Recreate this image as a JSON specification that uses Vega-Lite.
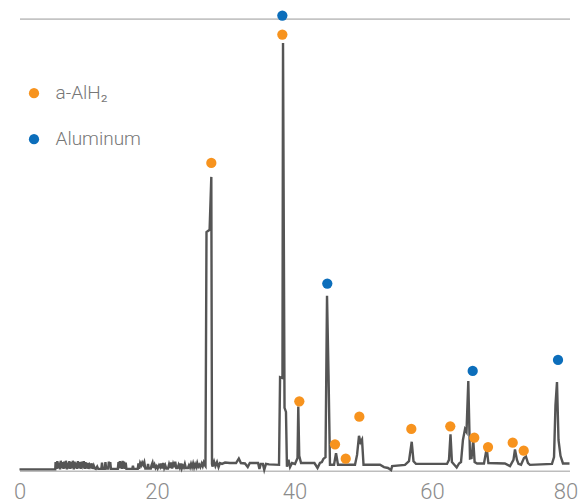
{
  "$schema": "https://vega.github.io/schema/vega-lite/v6.json",
  "width": 550,
  "height": 452,
  "autosize": {"type": "none"},
  "padding": {"left": 19.5, "top": 18.7, "right": 9.5, "bottom": 33.3},
  "background": "white",
  "config": {"view": {"stroke": null}},
  "datasets": {
    "pattern": [
      {"x": 0, "y": 0.3}, {"x": 5.1, "y": 0.3},
      {"x": 5.2, "y": 0.3}, {"x": 5.25, "y": 1.9}, {"x": 5.4, "y": 0.4}, {"x": 5.5, "y": 2.1},
      {"x": 5.65, "y": 0.5}, {"x": 5.75, "y": 1.8}, {"x": 5.9, "y": 0.3}, {"x": 6.0, "y": 2.2},
      {"x": 6.15, "y": 0.6}, {"x": 6.25, "y": 1.9}, {"x": 6.4, "y": 0.4}, {"x": 6.5, "y": 2.0},
      {"x": 6.65, "y": 0.5}, {"x": 6.75, "y": 2.2}, {"x": 6.9, "y": 0.3}, {"x": 7.0, "y": 1.8},
      {"x": 7.15, "y": 0.5}, {"x": 7.25, "y": 2.1}, {"x": 7.4, "y": 0.4}, {"x": 7.5, "y": 1.9},
      {"x": 7.65, "y": 0.6}, {"x": 7.75, "y": 2.2}, {"x": 7.9, "y": 0.3}, {"x": 8.0, "y": 2.0},
      {"x": 8.15, "y": 0.5}, {"x": 8.25, "y": 1.8}, {"x": 8.4, "y": 0.4}, {"x": 8.5, "y": 2.1},
      {"x": 8.65, "y": 0.6}, {"x": 8.75, "y": 1.9}, {"x": 8.9, "y": 0.4},
      {"x": 9.05, "y": 2.0}, {"x": 9.2, "y": 1.2}, {"x": 9.35, "y": 2.1}, {"x": 9.5, "y": 0.4},
      {"x": 9.6, "y": 1.9}, {"x": 9.75, "y": 0.5}, {"x": 9.9, "y": 1.7}, {"x": 10.05, "y": 0.4},
      {"x": 10.2, "y": 1.3}, {"x": 10.35, "y": 0.9}, {"x": 10.5, "y": 1.6}, {"x": 10.65, "y": 0.4},
      {"x": 10.8, "y": 1.1}, {"x": 10.95, "y": 0.5}, {"x": 11.1, "y": 0.4}, {"x": 11.3, "y": 0.9},
      {"x": 11.45, "y": 0.4}, {"x": 11.9, "y": 0.4}, {"x": 12.0, "y": 1.8}, {"x": 12.1, "y": 0.4},
      {"x": 12.4, "y": 0.4}, {"x": 12.5, "y": 1.9}, {"x": 12.6, "y": 0.5}, {"x": 12.9, "y": 0.5},
      {"x": 13.0, "y": 2.0}, {"x": 13.1, "y": 1.0}, {"x": 13.2, "y": 1.9}, {"x": 13.3, "y": 0.4},
      {"x": 13.5, "y": 0.4}, {"x": 14.3, "y": 0.4}, {"x": 14.4, "y": 1.9}, {"x": 14.5, "y": 0.5},
      {"x": 14.6, "y": 2.1}, {"x": 14.7, "y": 0.6}, {"x": 14.8, "y": 1.9}, {"x": 14.9, "y": 0.4},
      {"x": 15.0, "y": 2.2}, {"x": 15.1, "y": 0.5}, {"x": 15.2, "y": 2.0}, {"x": 15.3, "y": 0.4},
      {"x": 15.45, "y": 1.8}, {"x": 15.55, "y": 0.4}, {"x": 16.4, "y": 0.4}, {"x": 16.5, "y": 1.1},
      {"x": 16.6, "y": 0.4}, {"x": 17.2, "y": 0.4}, {"x": 17.3, "y": 1.6}, {"x": 17.4, "y": 0.4},
      {"x": 17.55, "y": 1.7}, {"x": 17.7, "y": 1.2}, {"x": 17.85, "y": 1.8}, {"x": 18.0, "y": 1.3},
      {"x": 18.15, "y": 1.9}, {"x": 18.3, "y": 0.5}, {"x": 18.6, "y": 0.5}, {"x": 18.7, "y": 1.5},
      {"x": 18.8, "y": 0.5}, {"x": 19.1, "y": 0.5}, {"x": 19.2, "y": 1.2}, {"x": 19.35, "y": 1.8},
      {"x": 19.5, "y": 0.6}, {"x": 19.65, "y": 1.3}, {"x": 19.8, "y": 0.6}, {"x": 19.95, "y": 1.0},
      {"x": 20.1, "y": 0.5}, {"x": 20.3, "y": 1.2}, {"x": 20.45, "y": 0.8}, {"x": 20.6, "y": 1.6},
      {"x": 20.75, "y": 0.5}, {"x": 20.9, "y": 1.7}, {"x": 21.05, "y": 0.6}, {"x": 21.2, "y": 1.2},
      {"x": 21.35, "y": 0.5}, {"x": 21.6, "y": 0.5}, {"x": 21.75, "y": 1.4}, {"x": 21.9, "y": 0.6},
      {"x": 22.05, "y": 1.8}, {"x": 22.2, "y": 0.5}, {"x": 22.35, "y": 1.5}, {"x": 22.5, "y": 0.8},
      {"x": 22.65, "y": 2.0}, {"x": 22.8, "y": 0.6}, {"x": 23.0, "y": 0.6}, {"x": 23.15, "y": 1.3},
      {"x": 23.3, "y": 0.7}, {"x": 23.45, "y": 1.6}, {"x": 23.6, "y": 0.5}, {"x": 23.75, "y": 1.1},
      {"x": 23.9, "y": 0.7}, {"x": 24.05, "y": 1.5}, {"x": 24.2, "y": 0.6}, {"x": 24.5, "y": 0.6},
      {"x": 24.65, "y": 1.2}, {"x": 24.8, "y": 0.7}, {"x": 24.95, "y": 1.5}, {"x": 25.1, "y": 0.8},
      {"x": 25.25, "y": 1.6}, {"x": 25.4, "y": 0.7}, {"x": 25.55, "y": 1.4}, {"x": 25.7, "y": 0.8},
      {"x": 25.85, "y": 1.7}, {"x": 26.0, "y": 0.9}, {"x": 26.15, "y": 1.3}, {"x": 26.3, "y": 0.8},
      {"x": 26.5, "y": 1.6}, {"x": 26.65, "y": 1.0}, {"x": 26.8, "y": 1.8}, {"x": 26.95, "y": 1.2},
      {"x": 27.05, "y": 1.0},
      {"x": 27.2, "y": 52.8}, {"x": 27.65, "y": 53.3}, {"x": 27.9, "y": 65.0}, {"x": 28.0, "y": 1.5},
      {"x": 28.07, "y": 0.9}, {"x": 28.3, "y": 2.0}, {"x": 28.5, "y": 1.0}, {"x": 28.73, "y": 1.9},
      {"x": 28.95, "y": 0.8}, {"x": 29.16, "y": 1.7}, {"x": 29.45, "y": 1.5}, {"x": 29.9, "y": 1.8},
      {"x": 30.6, "y": 1.7}, {"x": 31.5, "y": 1.7}, {"x": 31.9, "y": 2.7}, {"x": 32.2, "y": 1.7},
      {"x": 32.8, "y": 1.6}, {"x": 33.2, "y": 0.8}, {"x": 33.5, "y": 1.7}, {"x": 34.7, "y": 1.7},
      {"x": 34.9, "y": 0.4}, {"x": 35.1, "y": 1.5}, {"x": 35.4, "y": 1.5}, {"x": 35.6, "y": 0.2},
      {"x": 35.85, "y": 1.5}, {"x": 36.3, "y": 1.4}, {"x": 37.75, "y": 1.3},
      {"x": 37.9, "y": 20.7}, {"x": 38.25, "y": 20.5}, {"x": 38.33, "y": 94.6}, {"x": 38.55, "y": 13.9},
      {"x": 38.76, "y": 13.0}, {"x": 38.9, "y": 0.9},
      {"x": 39.13, "y": 2.4}, {"x": 39.35, "y": 0.8}, {"x": 39.64, "y": 1.7}, {"x": 40.07, "y": 1.5},
      {"x": 40.44, "y": 2.8}, {"x": 40.55, "y": 14.2}, {"x": 40.69, "y": 3.3}, {"x": 40.95, "y": 1.7},
      {"x": 42.9, "y": 1.7}, {"x": 43.35, "y": 0.6}, {"x": 43.7, "y": 1.7}, {"x": 43.98, "y": 1.9},
      {"x": 44.2, "y": 2.6}, {"x": 44.51, "y": 3.0}, {"x": 44.73, "y": 38.7}, {"x": 44.95, "y": 21.2},
      {"x": 45.16, "y": 1.3}, {"x": 45.75, "y": 1.3}, {"x": 46.04, "y": 3.85}, {"x": 46.33, "y": 1.3},
      {"x": 48.8, "y": 1.3}, {"x": 49.1, "y": 3.5}, {"x": 49.38, "y": 7.7}, {"x": 49.6, "y": 6.3},
      {"x": 49.82, "y": 6.9}, {"x": 50.04, "y": 1.3}, {"x": 52.44, "y": 1.3}, {"x": 53.02, "y": 0.8},
      {"x": 53.6, "y": 0.6}, {"x": 54.05, "y": 0.15}, {"x": 54.2, "y": 1.0}, {"x": 56.07, "y": 1.3},
      {"x": 56.65, "y": 2.1}, {"x": 57.05, "y": 6.4}, {"x": 57.31, "y": 2.1}, {"x": 57.67, "y": 1.5},
      {"x": 62.18, "y": 1.5}, {"x": 62.47, "y": 2.4}, {"x": 62.69, "y": 8.05}, {"x": 62.9, "y": 1.9},
      {"x": 63.59, "y": 0.7}, {"x": 63.93, "y": 1.6}, {"x": 64.22, "y": 1.9}, {"x": 64.5, "y": 6.8},
      {"x": 64.8, "y": 9.2}, {"x": 65.02, "y": 8.6}, {"x": 65.28, "y": 19.85}, {"x": 65.53, "y": 2.7},
      {"x": 65.75, "y": 2.8}, {"x": 66.0, "y": 6.8}, {"x": 66.2, "y": 1.9}, {"x": 66.55, "y": 1.6},
      {"x": 67.56, "y": 1.6}, {"x": 67.96, "y": 5.0}, {"x": 68.2, "y": 1.7}, {"x": 70.6, "y": 1.6},
      {"x": 71.35, "y": 1.0}, {"x": 71.85, "y": 2.4}, {"x": 72.07, "y": 4.7}, {"x": 72.36, "y": 2.4},
      {"x": 72.58, "y": 1.5}, {"x": 72.95, "y": 1.3}, {"x": 73.38, "y": 2.8}, {"x": 73.67, "y": 3.1},
      {"x": 73.96, "y": 1.7}, {"x": 74.25, "y": 1.3}, {"x": 77.45, "y": 1.5}, {"x": 77.75, "y": 3.0},
      {"x": 77.96, "y": 14.5}, {"x": 78.18, "y": 19.6}, {"x": 78.4, "y": 6.8}, {"x": 78.69, "y": 3.3},
      {"x": 79.05, "y": 1.6}, {"x": 80, "y": 1.6}
    ],
    "peaks": [
      {"x": 27.9, "y": 68.1, "phase": "a-AlH₂"},
      {"x": 38.23, "y": 96.5, "phase": "a-AlH₂"},
      {"x": 40.7, "y": 15.35, "phase": "a-AlH₂"},
      {"x": 45.89, "y": 5.84, "phase": "a-AlH₂"},
      {"x": 47.45, "y": 2.65, "phase": "a-AlH₂"},
      {"x": 49.43, "y": 11.95, "phase": "a-AlH₂"},
      {"x": 56.99, "y": 9.23, "phase": "a-AlH₂"},
      {"x": 62.66, "y": 9.82, "phase": "a-AlH₂"},
      {"x": 66.15, "y": 7.3, "phase": "a-AlH₂"},
      {"x": 68.15, "y": 5.24, "phase": "a-AlH₂"},
      {"x": 71.74, "y": 6.19, "phase": "a-AlH₂"},
      {"x": 73.34, "y": 4.42, "phase": "a-AlH₂"},
      {"x": 38.23, "y": 100.7, "phase": "Aluminum"},
      {"x": 44.77, "y": 41.4, "phase": "Aluminum"},
      {"x": 65.92, "y": 22.06, "phase": "Aluminum"},
      {"x": 78.33, "y": 24.5, "phase": "Aluminum"}
    ]
  },
  "layer": [
    {
      "data": {"name": "pattern"},
      "mark": {"type": "line", "color": "#555555", "strokeWidth": 2.4, "strokeJoin": "miter"},
      "encoding": {
        "x": {
          "field": "x", "type": "quantitative",
          "scale": {"domain": [0, 80], "nice": false, "zero": false},
          "axis": {
            "values": [0, 20, 40, 60, 80], "title": null, "grid": false, "ticks": false,
            "domainColor": "#bdbdbd", "domainWidth": 1.5,
            "labelFont": "Roboto", "labelFontWeight": 300, "labelFontSize": 22, "labelColor": "#8c8c8c",
            "labelPadding": 11, "labelFlush": false,
            "labelOffset": {"condition": {"test": "datum.value == 80", "value": -4}, "value": 0}
          }
        },
        "y": {
          "field": "y", "type": "quantitative",
          "scale": {"domain": [0, 100], "nice": false},
          "axis": {
            "values": [100], "title": null, "labels": false, "ticks": false, "domain": false,
            "grid": true, "gridColor": "#c4c4c4", "gridWidth": 1.8
          }
        }
      }
    },
    {
      "data": {"name": "peaks"},
      "mark": {"type": "point", "filled": true, "shape": "circle", "size": 105, "opacity": 1},
      "encoding": {
        "x": {"field": "x", "type": "quantitative"},
        "y": {"field": "y", "type": "quantitative"},
        "color": {
          "field": "phase", "type": "nominal",
          "scale": {"domain": ["a-AlH₂", "Aluminum"], "range": ["#F7931E", "#0C6EBB"]},
          "legend": {
            "title": null, "orient": "none", "legendX": 5, "legendY": 65,
            "padding": 0, "symbolSize": 105, "symbolType": "circle", "symbolOpacity": 1,
            "labelFont": "Roboto", "labelFontSize": 19, "labelFontWeight": 300, "labelColor": "#777777",
            "labelOffset": 12, "rowPadding": 26
          }
        }
      }
    }
  ]
}
